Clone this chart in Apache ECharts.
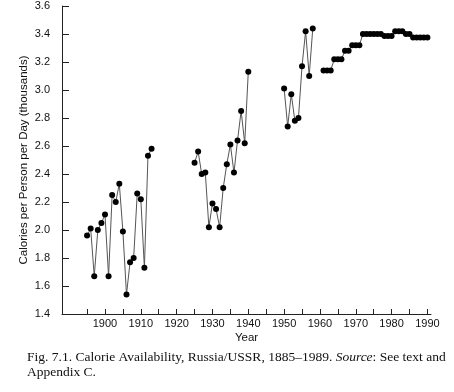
<!DOCTYPE html>
<html><head><meta charset="utf-8">
<script src="https://cdn.jsdelivr.net/npm/echarts@6/dist/echarts.min.js"></script>
<style>html,body{margin:0;padding:0;background:#fff}#c{width:454px;height:392px}</style>
</head><body><div id="c"></div>
<script>
const years1 = [1895,1896,1897,1898,1899,1900,1901,1902,1903,1904,1905,1906,1907,1908,1909,1910,1911,1912,1913];
const values1 = [1.96,2.01,1.67,2.00,2.05,2.11,1.67,2.25,2.20,2.33,1.99,1.54,1.77,1.80,2.26,2.22,1.73,2.53,2.58];
const years2 = [1925,1926,1927,1928,1929,1930,1931,1932,1933,1934,1935,1936,1937,1938,1939,1940];
const values2 = [2.48,2.56,2.40,2.41,2.02,2.19,2.15,2.02,2.30,2.47,2.61,2.41,2.64,2.85,2.62,3.13];
const years3 = [1950,1951,1952,1953,1954,1955,1956,1957,1958];
const values3 = [3.01,2.74,2.97,2.78,2.80,3.17,3.42,3.10,3.44];
const years4 = [1961,1962,1963,1964,1965,1966,1967,1968,1969,1970,1971,1972,1973,1974,1975,1976,1977,1978,1979,1980,1981,1982,1983,1984,1985,1986,1987,1988,1989,1990];
const values4 = [3.14,3.14,3.14,3.22,3.22,3.22,3.28,3.28,3.32,3.32,3.32,3.40,3.40,3.40,3.40,3.40,3.40,3.385,3.385,3.385,3.42,3.42,3.42,3.40,3.40,3.375,3.375,3.375,3.375,3.375];
const xTickValues = [1895,1900,1905,1910,1915,1920,1925,1930,1935,1940,1945,1950,1955,1960,1965,1970,1975,1980,1985,1990];
const xLabelValues = [1900,1910,1920,1930,1940,1950,1960,1970,1980,1990];

const pair = (ys, vs) => ys.map((y, i) => [y, vs[i]]);
const segs = [pair(years1, values1), pair(years2, values2), pair(years3, values3), pair(years4, values4)];

const chart = echarts.init(document.getElementById('c'), null, {renderer: 'canvas'});
const axisFont = {fontFamily: 'Liberation Sans, Arial, sans-serif', fontSize: 11, color: '#111'};
chart.setOption({
  animation: false,
  backgroundColor: '#fff',
  grid: {left: 62, top: 6, right: 23, bottom: 78},
  xAxis: {
    type: 'value', min: 1888, max: 1991,
    name: 'Year', nameLocation: 'middle', nameGap: 18, nameMoveOverlap: false,
    nameTextStyle: Object.assign({}, axisFont, {fontSize: 11.5}),
    axisLine: {show: true, lineStyle: {color: '#222', width: 1}},
    axisTick: {show: true, inside: true, length: 5, customValues: xTickValues, lineStyle: {color: '#222'}},
    axisLabel: Object.assign({customValues: xLabelValues, margin: 4, formatter: v => String(v)}, axisFont),
    splitLine: {show: false}
  },
  yAxis: {
    type: 'value', min: 1.4, max: 3.6, interval: 0.2,
    name: 'Calories per Person per Day (thousands)', nameLocation: 'middle', nameGap: 32, nameMoveOverlap: false,
    nameTextStyle: Object.assign({}, axisFont, {fontSize: 11.5}),
    axisLine: {show: true, lineStyle: {color: '#222', width: 1}},
    axisTick: {show: true, inside: true, length: 7, lineStyle: {color: '#222'}},
    axisLabel: Object.assign({margin: 12, formatter: v => v.toFixed(1)}, axisFont),
    splitLine: {show: false}
  },
  series: segs.map(d => ({
    type: 'line', data: d, symbol: 'circle', symbolSize: 6, showSymbol: true,
    lineStyle: {color: '#555', width: 1},
    itemStyle: {color: '#000'},
    z: 3
  })),
  graphic: [{
    type: 'text', left: 27, top: 350,
    style: {
      rich: {
        n: {fontFamily: 'Liberation Serif, Times New Roman, serif', fontSize: 13.5, fill: '#111', lineHeight: 15},
        i: {fontFamily: 'Liberation Serif, Times New Roman, serif', fontSize: 13.5, fontStyle: 'italic', fill: '#111', lineHeight: 15}
      },
      text: '{n|Fig. 7.1. Calorie Availability, Russia/USSR, 1885–1989. }{i|Source}{n|: See text and}\n{n|Appendix C.}'
    }
  }]
});
</script></body></html>
